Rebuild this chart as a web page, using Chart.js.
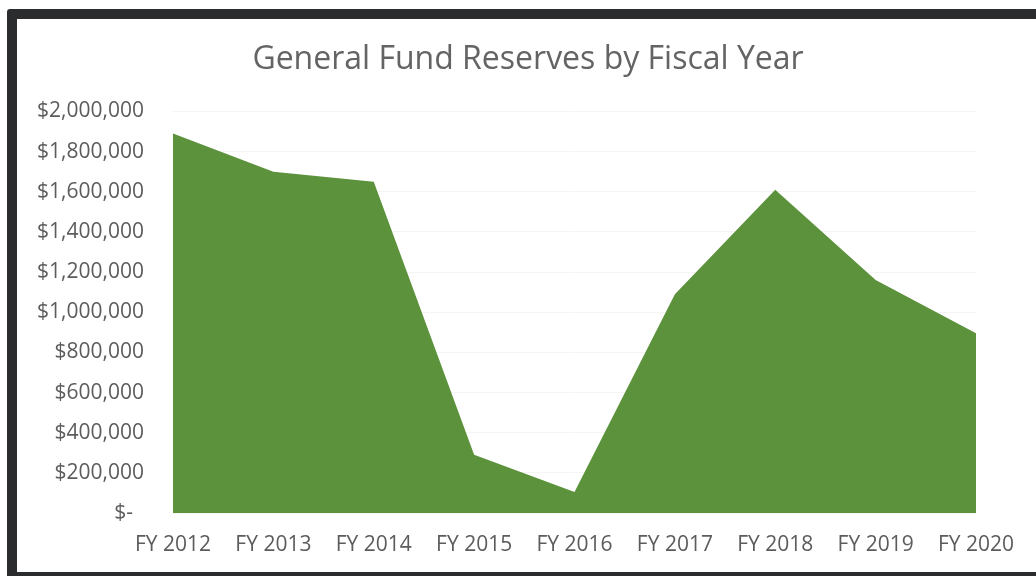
<!DOCTYPE html>
<html>
<head>
<meta charset="utf-8">
<script src="https://cdn.jsdelivr.net/npm/chart.js@4"></script>
<style>
  html, body { margin: 0; padding: 0; background: #fff; overflow: hidden; }
  #wrap { position: relative; width: 1036px; height: 576px; }
  #frame {
    position: absolute; left: 7px; top: 9px;
    width: 1060px; height: 553px;
    border: 10px solid #2b2c2e; border-radius: 3px;
    pointer-events: none;
  }
  canvas { position: absolute; left: 0; top: 0; }
</style>
</head>
<body>
<div id="wrap">
  <canvas id="chart" width="1036" height="576"></canvas>
  <div id="frame"></div>
</div>
<script>
// values
const years = ['FY 2012', 'FY 2013', 'FY 2014', 'FY 2015', 'FY 2016', 'FY 2017', 'FY 2018', 'FY 2019', 'FY 2020'];
const reserves = [1890000, 1700000, 1650000, 290000, 105000, 1090000, 1610000, 1160000, 895000];
const yMin = 0;
const yMax = 2000000;
const yStep = 200000;

const textGray = '#5c5c5c';
const font = 'Open Sans';

const ctx = document.getElementById('chart').getContext('2d');
new Chart(ctx, {
  type: 'line',
  data: {
    labels: years,
    datasets: [{
      label: 'General Fund Reserves',
      data: reserves,
      fill: 'origin',
      backgroundColor: '#5c923c',
      borderWidth: 0,
      borderColor: 'rgba(0,0,0,0)',
      pointRadius: 0,
      tension: 0
    }]
  },
  options: {
    responsive: false,
    animation: false,
    layout: { padding: { left: 20, right: 0, top: 0, bottom: 0 } },
    plugins: {
      legend: { display: false },
      tooltip: { enabled: false },
      title: {
        display: true,
        text: 'General Fund Reserves by Fiscal Year',
        color: '#646464',
        font: { family: font, size: 32, weight: 'normal' },
        padding: { top: 41, bottom: 32 }
      }
    },
    scales: {
      x: {
        offset: false,
        grid: { display: false, drawTicks: false },
        border: { display: false },
        ticks: {
          color: textGray,
          font: { family: font, size: 21 },
          padding: 19,
          maxRotation: 0,
          autoSkip: false
        },
        afterFit: s => { s.height = 63; }
      },
      y: {
        min: yMin,
        max: yMax,
        grid: { color: '#f4f4f4', drawTicks: false },
        border: { display: false },
        ticks: {
          stepSize: yStep,
          color: textGray,
          font: { family: font, size: 21 },
          padding: 29,
          callback: v => v === 0 ? '$-  ' : '$' + v.toLocaleString('en-US')
        },
        afterFit: s => { s.width = 153; }
      },
      // empty right-hand gutter so the plot ends where the reference does
      gutter: {
        type: 'linear',
        position: 'right',
        grid: { display: false, drawTicks: false },
        border: { display: false },
        ticks: { display: false },
        afterFit: s => { s.width = 60; }
      }
    }
  }
});
</script>
</body>
</html>
